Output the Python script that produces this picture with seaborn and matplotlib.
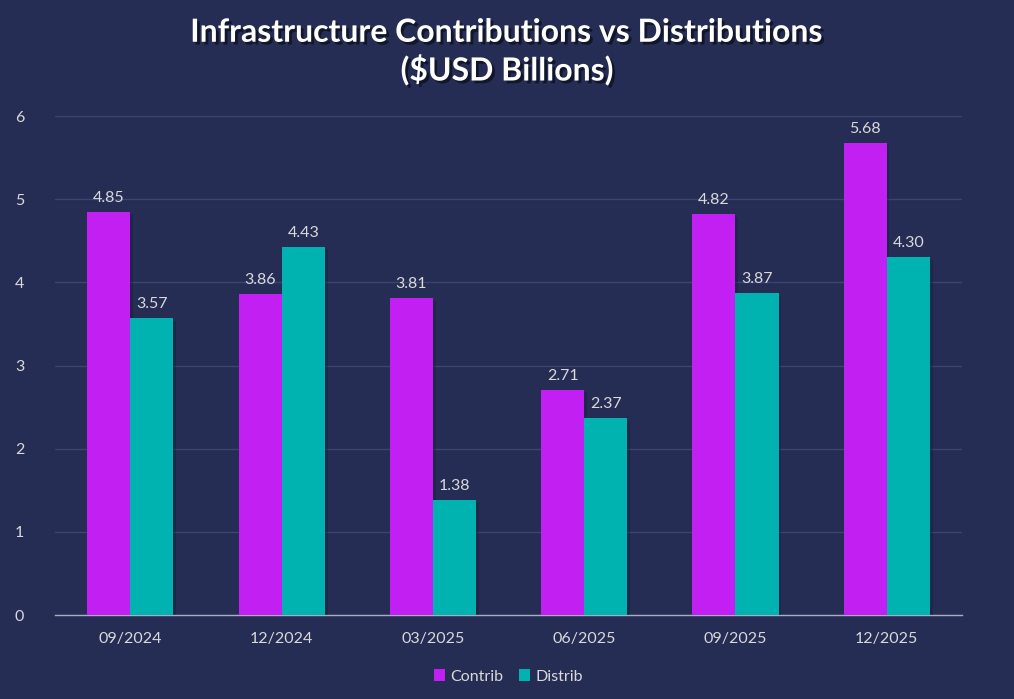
import seaborn as sns
import matplotlib.pyplot as plt
import matplotlib.patheffects as pe
import pandas as pd

# --- data ---
quarters = ["09/2024", "12/2024", "03/2025", "06/2025", "09/2025", "12/2025"]
contrib = [4.85, 3.86, 3.81, 2.71, 4.82, 5.68]
distrib = [3.57, 4.43, 1.38, 2.37, 3.87, 4.30]

bg = "#262d54"
grid_col = "#3c4472"
text_col = "#d9d9d9"
colors = {"Contrib": "#c21ff2", "Distrib": "#00b3b0"}

df = pd.DataFrame({
    "quarter": quarters * 2,
    "value": contrib + distrib,
    "series": ["Contrib"] * len(quarters) + ["Distrib"] * len(quarters),
})

sns.set_theme(style="dark")
plt.rcParams["font.family"] = ["Lato", "DejaVu Sans"]

fig = plt.figure(figsize=(10.14, 6.99), dpi=100, facecolor=bg)
ax = fig.add_axes([0.054, 0.120, 0.895, 0.714], facecolor=bg)

sns.barplot(data=df, x="quarter", y="value", hue="series", palette=colors,
            width=0.57, saturation=1, linewidth=0, edgecolor="none", ax=ax, zorder=3)

# soft shadow under bars, labels on top
for cont in ax.containers:
    for bar in cont:
        bar.set_path_effects([pe.SimplePatchShadow(offset=(2, -2), shadow_rgbFace="#151a38", alpha=0.35),
                              pe.Normal()])
    ax.bar_label(cont, fmt="%.2f", padding=5, color=text_col, fontsize=11.5)

ax.set_ylim(0, 6)
ax.set_xlim(-0.5, 5.5)
ax.set_yticks(range(0, 7))
ax.yaxis.grid(True, color=grid_col, linewidth=1, zorder=0)
ax.xaxis.grid(False)
for side in ["top", "right", "left"]:
    ax.spines[side].set_visible(False)
ax.spines["bottom"].set_color("#a9adc4")
ax.spines["bottom"].set_linewidth(1)
ax.tick_params(axis="both", colors=text_col, labelsize=11.5, length=0)
ax.tick_params(axis="x", pad=12)
ax.tick_params(axis="y", pad=22)
ax.set_xlabel("")
ax.set_ylabel("")

leg = ax.legend(loc="upper center", bbox_to_anchor=(0.5, -0.08), ncol=2, frameon=False,
                handlelength=0.7, handleheight=0.7, handletextpad=0.3, columnspacing=1.0,
                fontsize=11.5)
for t in leg.get_texts():
    t.set_color(text_col)

fig.text(0.5, 0.926, "Infrastructure Contributions vs Distributions\n($USD Billions)",
         ha="center", va="center", color="white", fontsize=23, fontweight="bold",
         linespacing=1.25,
         path_effects=[pe.withSimplePatchShadow(offset=(2, -2), shadow_rgbFace="black", alpha=0.5)])

fig.savefig("out.png", dpi=100, facecolor=bg)
